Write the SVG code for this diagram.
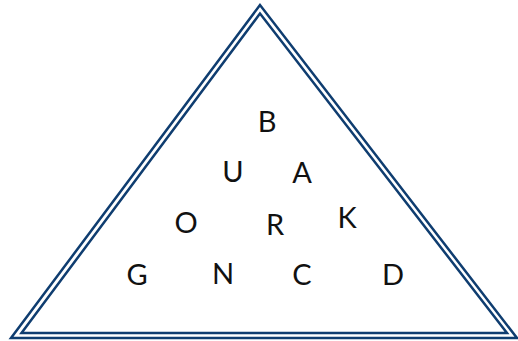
<svg xmlns="http://www.w3.org/2000/svg" width="518" height="341" viewBox="0 0 518 341">
<style>
.tri{fill:none;stroke:#0f3d70;stroke-width:2.5;stroke-linejoin:miter}
.l{font-family:Lato,"Liberation Sans",sans-serif;font-size:29px;fill:#111;text-anchor:middle}
</style>
<rect width="518" height="341" fill="#fff"/>
<g id="frame">
<polygon class="tri" points="260,5 11,338 517,338"/>
<polygon class="tri" points="260,13.5 21.5,333 507,333"/>
</g>
<g id="connectors"></g>
<g id="node-B"><text class="l" x="267" y="132">B</text></g>
<g id="node-U"><text class="l" x="233" y="182">U</text></g>
<g id="node-A"><text class="l" x="302" y="183">A</text></g>
<g id="node-O"><text class="l" x="186" y="233">O</text></g>
<g id="node-R"><text class="l" x="275" y="235">R</text></g>
<g id="node-K"><text class="l" x="347" y="228">K</text></g>
<g id="node-G"><text class="l" x="137" y="285">G</text></g>
<g id="node-N"><text class="l" x="223" y="284">N</text></g>
<g id="node-C"><text class="l" x="302" y="285">C</text></g>
<g id="node-D"><text class="l" x="393" y="285">D</text></g>
</svg>
